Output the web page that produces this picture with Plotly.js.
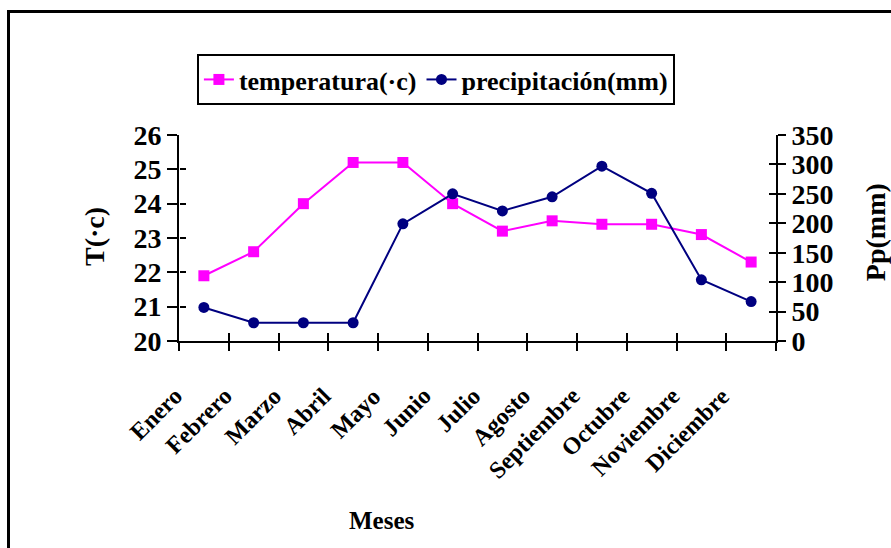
<!DOCTYPE html>
<html>
<head>
<meta charset="utf-8">
<script src="https://cdn.plot.ly/plotly-3.0.1.min.js"></script>
<style>
html,body{margin:0;padding:0;background:#fff;overflow:hidden;}
#chart{position:absolute;left:0;top:0;width:891px;height:548px;}
#frame{position:absolute;left:7px;top:10px;width:1000px;height:1000px;border:3px solid #000;pointer-events:none;}
</style>
</head>
<body>
<div id="chart"></div>
<div id="frame"></div>
<script>
const months = ["Enero","Febrero","Marzo","Abril","Mayo","Junio","Julio","Agosto","Septiembre","Octubre","Noviembre","Diciembre"];
const temperatura = [21.9, 22.6, 24.0, 25.2, 25.2, 24.0, 23.2, 23.5, 23.4, 23.4, 23.1, 22.3];
const precipitacion = [57, 31, 31, 31, 199, 250, 221, 245, 297, 251, 104, 67];
const tempTicks = [20, 21, 22, 23, 24, 25, 26];
const ppTicks = [0, 50, 100, 150, 200, 250, 300, 350];

const idx = months.map((m, i) => i);
const bounds = months.map((m, i) => i - 0.5).concat([months.length - 0.5]);

const FONT = "Liberation Serif, Times New Roman, serif";

function helper(xa, ya, yv) {
  return {x: idx, y: yv, xaxis: xa, yaxis: ya, type: "scatter", mode: "none",
          showlegend: false, hoverinfo: "skip"};
}

const traces = [
  {
    x: months, y: temperatura, name: "temperatura(·c)", type: "scatter", mode: "lines+markers",
    xaxis: "x", yaxis: "y",
    line: {color: "#FF00FF", width: 2},
    marker: {symbol: "square", size: 11, color: "#FF00FF"}
  },
  {
    x: months, y: precipitacion, name: "precipitación(mm)", type: "scatter", mode: "lines+markers",
    xaxis: "x", yaxis: "y2",
    line: {color: "#000080", width: 2},
    marker: {symbol: "circle", size: 11, color: "#000080"}
  },
  helper("x3", "y", temperatura),
  helper("x3", "y3", temperatura),
  helper("x3", "y4", precipitacion)
];

const monthLabels = months.map(m => ({
  text: m, xref: "x", yref: "paper", x: m, y: -0.189,
  xanchor: "right", yanchor: "top", xshift: -14, textangle: -45,
  showarrow: false, font: {family: FONT, size: 24, weight: "bold", color: "#000"}
}));

const layout = {
  width: 891, height: 548,
  margin: {l: 179, r: 115, t: 135, b: 207},
  paper_bgcolor: "rgba(0,0,0,0)", plot_bgcolor: "rgba(0,0,0,0)",
  font: {family: FONT, weight: "bold", color: "#000"},
  showlegend: true,
  legend: {
    orientation: "h", x: 0.03, y: 1.393, xanchor: "left", yanchor: "top",
    bordercolor: "#000", borderwidth: 2, bgcolor: "#fff",
    font: {family: FONT, size: 26, weight: "bold", color: "#000"}
  },
  xaxis: {
    type: "category", categoryarray: months, range: [-0.5, months.length - 0.5],
    showline: true, linecolor: "#000", linewidth: 2, mirror: false,
    ticks: "outside", tickson: "boundaries", ticklen: 8, tickwidth: 2, tickcolor: "#000",
    showticklabels: false, showgrid: false, zeroline: false, fixedrange: true
  },
  xaxis3: {
    overlaying: "x", anchor: "y", side: "bottom", type: "linear", range: [-0.5, months.length - 0.5],
    tickmode: "array", tickvals: bounds, ticks: "inside", ticklen: 8, tickwidth: 2, tickcolor: "#000",
    showticklabels: false, showline: false, showgrid: false, zeroline: false
  },
  yaxis: {
    range: [20, 26], tickmode: "array", tickvals: tempTicks,
    showline: true, linecolor: "#000", linewidth: 2,
    ticks: "outside", ticklen: 10, tickwidth: 2, tickcolor: "#000",
    tickfont: {family: FONT, size: 28, weight: "bold", color: "#000"},
    showgrid: false, zeroline: false, fixedrange: true
  },
  yaxis3: {
    overlaying: "y", anchor: "free", position: 0, side: "left", range: [20, 26], tickmode: "array", tickvals: tempTicks,
    ticks: "inside", ticklen: 6, tickwidth: 2, tickcolor: "#000",
    showticklabels: false, showline: false, showgrid: false, zeroline: false
  },
  yaxis2: {
    overlaying: "y", side: "right", anchor: "x", range: [0, 350], tickmode: "array", tickvals: ppTicks,
    showline: true, linecolor: "#000", linewidth: 2,
    ticks: "outside", ticklen: 8, tickwidth: 2, tickcolor: "#000",
    tickfont: {family: FONT, size: 28, weight: "bold", color: "#000"},
    showgrid: false, zeroline: false, fixedrange: true
  },
  yaxis4: {
    overlaying: "y", side: "right", anchor: "x", range: [0, 350], tickmode: "array", tickvals: ppTicks,
    ticks: "inside", ticklen: 7, tickwidth: 2, tickcolor: "#000",
    showticklabels: false, showline: false, showgrid: false, zeroline: false
  },
  annotations: monthLabels.concat([
    {text: "Meses", xref: "paper", yref: "paper", x: 0.340, y: -0.869, xanchor: "center", yanchor: "middle",
     showarrow: false, font: {family: FONT, size: 25, weight: "bold", color: "#000"}},
    {text: "T(·c)", xref: "paper", yref: "paper", x: -0.1407, y: 0.505, xanchor: "center", yanchor: "middle",
     textangle: -90, showarrow: false, font: {family: FONT, size: 28, weight: "bold", color: "#000"}},
    {text: "Pp(mm)", xref: "paper", yref: "paper", x: 1.166, y: 0.529, xanchor: "center", yanchor: "middle",
     textangle: -90, showarrow: false, font: {family: FONT, size: 28, weight: "bold", color: "#000"}}
  ])
};

Plotly.newPlot("chart", traces, layout, {staticPlot: true, displayModeBar: false});
</script>
</body>
</html>
